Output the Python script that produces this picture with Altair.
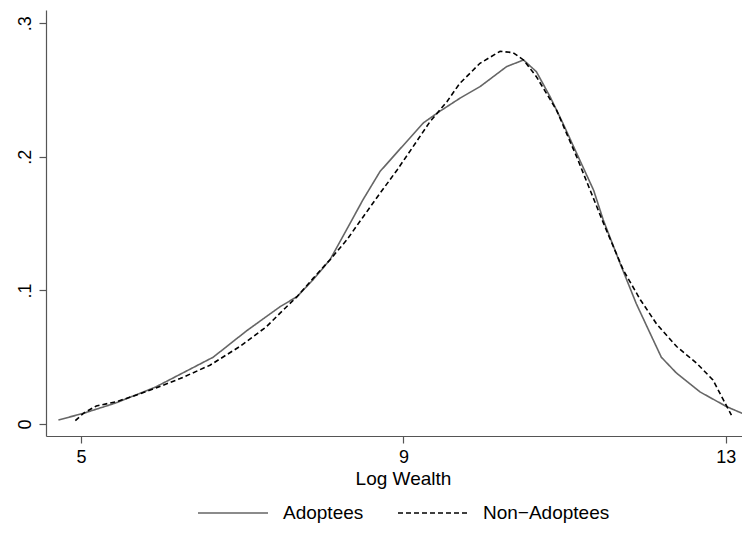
import altair as alt
import pandas as pd

# Kernel-density style curves
adopt_x = [4.72, 5.03, 5.42, 5.92, 6.64, 7.06, 7.47, 7.68, 7.88, 8.09, 8.30, 8.50, 8.71, 8.96,
           9.25, 9.45, 9.70, 9.95, 10.28, 10.49, 10.65, 10.82, 10.98, 11.15, 11.36, 11.48,
           11.69, 11.89, 12.06, 12.20, 12.39, 12.68, 13.01, 13.28]
adopt_y = [0.003, 0.008, 0.0155, 0.0275, 0.050, 0.070, 0.0878, 0.0953, 0.108, 0.123, 0.146, 0.168,
           0.189, 0.206, 0.2255, 0.234, 0.2438, 0.2525, 0.2675, 0.2725, 0.2637, 0.245, 0.225,
           0.2026, 0.175, 0.1527, 0.120, 0.090, 0.068, 0.050, 0.038, 0.024, 0.013, 0.006]

non_x = [4.93, 5.03, 5.19, 5.44, 5.73, 5.92, 6.23, 6.60, 6.97, 7.30, 7.47, 7.68, 7.88, 8.09,
         8.30, 8.50, 8.71, 8.92, 9.12, 9.33, 9.54, 9.70, 9.95, 10.20, 10.36, 10.49, 10.65,
         10.90, 11.15, 11.50, 11.73, 11.94, 12.14, 12.39, 12.64, 12.84, 12.97, 13.07]
non_y = [0.0025, 0.008, 0.0135, 0.0167, 0.0225, 0.0267, 0.034, 0.044, 0.058, 0.0728, 0.083,
         0.0953, 0.109, 0.123, 0.138, 0.155, 0.1727, 0.190, 0.2076, 0.2263, 0.2413, 0.255,
         0.270, 0.279, 0.278, 0.2725, 0.26, 0.235, 0.200, 0.1477, 0.115, 0.093, 0.075, 0.058,
         0.0454, 0.033, 0.018, 0.0067]

series_names = ["Adoptees", "Non\u2212Adoptees"]
x_ticks = [5, 9, 13]
y_ticks = [0, 0.1, 0.2, 0.3]

df = pd.concat([
    pd.DataFrame({"x": adopt_x, "y": adopt_y, "group": series_names[0]}),
    pd.DataFrame({"x": non_x, "y": non_y, "group": series_names[1]}),
])

FONT = "Liberation Sans"

chart = alt.Chart(df).mark_line(clip=True, strokeWidth=1.6).encode(
    x=alt.X("x:Q",
            scale=alt.Scale(domain=[4.566, 13.201], nice=False, zero=False),
            axis=alt.Axis(values=x_ticks, title="Log Wealth", grid=False,
                          tickSize=7, labelPadding=5, labelFontSize=18,
                          titleFontSize=19, titleX=357, titleY=48,
                          titleBaseline="alphabetic", titleAlign="center",
                          titleFontWeight="normal")),
    y=alt.Y("y:Q",
            scale=alt.Scale(domain=[-0.00898, 0.3099], nice=False, zero=False),
            axis=alt.Axis(values=y_ticks, title=None, grid=False, tickSize=7,
                          labelAngle=270, labelPadding=5, labelFontSize=18,
                          labelExpr="datum.value == 0 ? '0' : substring(format(datum.value, '.1f'), 1)")),
    color=alt.Color("group:N",
                    scale=alt.Scale(domain=series_names, range=["#666666", "#000000"]),
                    legend=alt.Legend(title=None, orient="none", direction="horizontal",
                                      legendX=151, legendY=467, symbolType="stroke",
                                      symbolSize=4900, symbolStrokeWidth=1.6,
                                      labelFontSize=19, labelOffset=14, columnPadding=30,
                                      padding=0)),
    strokeDash=alt.StrokeDash("group:N",
                              scale=alt.Scale(domain=series_names, range=[[1, 0], [5, 3]]),
                              legend=None),
).properties(
    width=696, height=426,
    autosize=alt.AutoSizeParams(type="none"),
    padding={"left": 38, "top": 2, "right": 0, "bottom": 90},
).configure_view(
    stroke=None
).configure_axis(
    domainColor="#555555", tickColor="#555555", labelColor="#000000", titleColor="#000000",
    labelFont=FONT, titleFont=FONT, domainWidth=1.2, tickWidth=1.2
).configure_legend(
    labelFont=FONT, labelColor="#000000"
)

chart.save("out.html", embed_options={"renderer": "svg", "actions": False})
